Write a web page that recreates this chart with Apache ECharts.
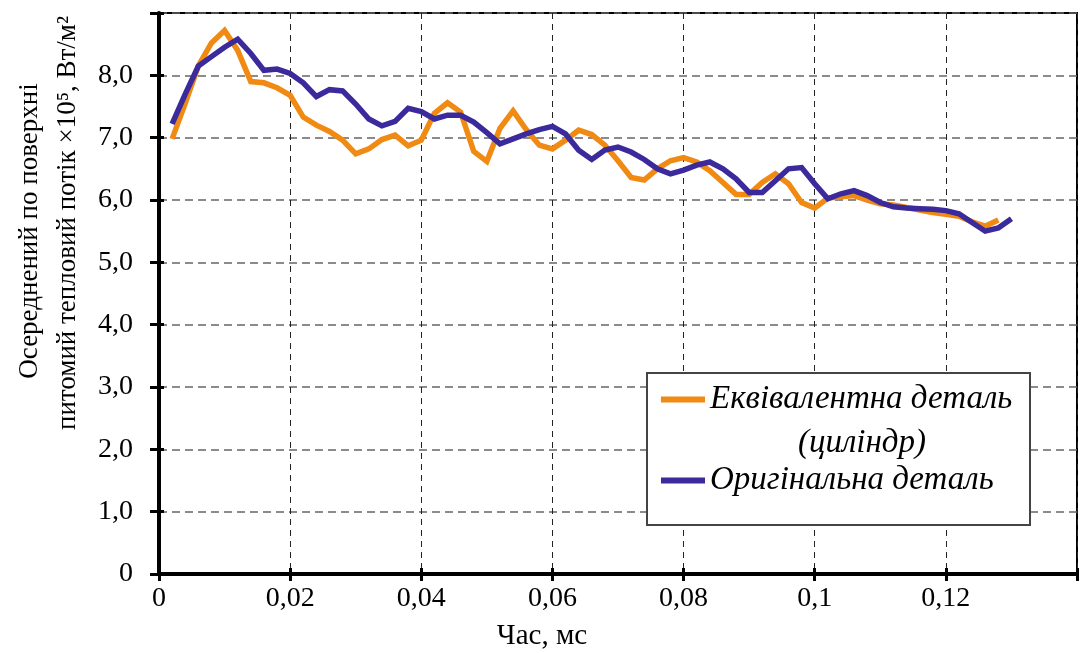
<!DOCTYPE html>
<html>
<head>
<meta charset="utf-8">
<script src="https://cdn.jsdelivr.net/npm/echarts@6/dist/echarts.min.js"></script>
<style>
html, body { margin: 0; padding: 0; background: #fff; }
#main { width: 1080px; height: 653px; }
</style>
</head>
<body>
<div id="main"></div>
<script>
// час, мс (крок 0,002)
var times = [0.002,0.004,0.006,0.008,0.010,0.012,0.014,0.016,0.018,0.020,
	0.022,0.024,0.026,0.028,0.030,0.032,0.034,0.036,0.038,0.040,
	0.042,0.044,0.046,0.048,0.050,0.052,0.054,0.056,0.058,0.060,
	0.062,0.064,0.066,0.068,0.070,0.072,0.074,0.076,0.078,0.080,
	0.082,0.084,0.086,0.088,0.090,0.092,0.094,0.096,0.098,0.100,
	0.102,0.104,0.106,0.108,0.110,0.112,0.114,0.116,0.118,0.120,
	0.122,0.124,0.126,0.128,0.130];
// еквівалентна деталь (циліндр)
var cylinderVals = [6.98,7.55,8.15,8.52,8.72,8.40,7.90,7.88,7.80,7.68,
	7.33,7.20,7.10,6.96,6.74,6.82,6.97,7.04,6.87,6.96,
	7.39,7.56,7.41,6.78,6.62,7.15,7.43,7.13,6.88,6.82,
	6.96,7.12,7.05,6.88,6.63,6.36,6.32,6.50,6.63,6.68,
	6.61,6.47,6.28,6.09,6.09,6.28,6.42,6.26,5.96,5.87,
	6.03,6.05,6.07,6.00,5.94,5.92,5.88,5.84,5.80,5.77,
	5.74,5.65,5.58,5.68];
// оригінальна деталь
var originalVals = [7.22,7.70,8.15,8.30,8.45,8.58,8.35,8.08,8.10,8.03,
	7.88,7.66,7.77,7.75,7.54,7.30,7.19,7.26,7.47,7.42,
	7.30,7.36,7.36,7.25,7.08,6.90,6.98,7.06,7.13,7.18,
	7.06,6.80,6.65,6.80,6.85,6.77,6.65,6.50,6.42,6.48,
	6.56,6.61,6.50,6.34,6.12,6.12,6.31,6.50,6.52,6.26,
	6.02,6.10,6.15,6.07,5.96,5.89,5.87,5.86,5.85,5.83,
	5.78,5.64,5.50,5.55,5.70];
var xTickLabels = ['0','0,02','0,04','0,06','0,08','0,1','0,12',''];
var yTickLabels = ['0','1,0','2,0','3,0','4,0','5,0','6,0','7,0','8,0',''];
var seriesNames = ['Еквівалентна деталь', 'Оригінальна деталь'];

var serif = "'Liberation Serif', 'Times New Roman', serif";

function pairs(vals) {
	var out = [];
	for (var i = 0; i < vals.length; i++) {
		out.push([times[i], vals[i]]);
	}
	return out;
}

var chart = echarts.init(document.getElementById('main'));

var option = {
	animation: false,
	backgroundColor: '#fff',
	grid: {
		left: 159,
		top: 13,
		width: 923,
		height: 561,
		show: true,
		borderColor: '#000',
		borderWidth: 2,
		backgroundColor: 'transparent'
	},
	xAxis: [{
		type: 'value',
		min: 0,
		max: 0.14,
		interval: 0.02,
		axisLine: {onZero: false, lineStyle: {color: '#000', width: 4}},
		axisTick: {show: true, inside: false, length: 7, lineStyle: {color: '#000', width: 3}},
		axisLabel: {
			margin: 11,
			color: '#000',
			fontFamily: serif,
			fontSize: 28,
			formatter: function (v, i) { return xTickLabels[i]; }
		},
		splitLine: {show: true, lineStyle: {color: '#222', width: 1, type: [6, 5]}}
	}, {
		type: 'value',
		min: 0,
		max: 0.14,
		interval: 0.02,
		position: 'bottom',
		axisLine: {show: false},
		axisTick: {show: true, inside: true, length: 6, lineStyle: {color: '#000', width: 3}},
		axisLabel: {show: false},
		splitLine: {show: false}
	}],
	yAxis: [{
		type: 'value',
		min: 0,
		max: 9,
		interval: 1,
		axisLine: {show: true, onZero: false, lineStyle: {color: '#000', width: 4}},
		axisTick: {show: true, inside: false, length: 9, lineStyle: {color: '#000', width: 3}},
		axisLabel: {
			margin: 26,
			color: '#000',
			fontFamily: serif,
			fontSize: 28,
			formatter: function (v, i) { return yTickLabels[i]; }
		},
		splitLine: {show: true, lineStyle: {color: '#666', width: 1.5, type: [8, 5]}}
	}, {
		type: 'value',
		min: 0,
		max: 9,
		interval: 1,
		position: 'left',
		axisLine: {show: false},
		axisTick: {show: true, inside: true, length: 5, lineStyle: {color: '#000', width: 3}},
		axisLabel: {show: false},
		splitLine: {show: false}
	}],
	legend: {
		orient: 'vertical',
		left: 656,
		top: 378,
		icon: 'rect',
		itemWidth: 44,
		itemHeight: 6,
		itemGap: 48,
		itemTextGap: 7,
		z: 10,
		data: seriesNames,
		textStyle: {
			color: '#000',
			fontFamily: serif,
			fontStyle: 'italic',
			fontSize: 33
		}
	},
	graphic: [{
		type: 'rect',
		z: 5,
		shape: {x: 647, y: 373, width: 383, height: 152},
		style: {fill: '#fff', stroke: '#444', lineWidth: 2}
	}, {
		type: 'text',
		z: 10,
		x: 862,
		y: 443,
		style: {
			text: '(циліндр)',
			font: 'italic 33px ' + serif,
			fill: '#000',
			textAlign: 'center',
			textVerticalAlign: 'middle'
		}
	}, {
		type: 'text',
		x: 30,
		y: 231,
		rotation: Math.PI / 2,
		style: {
			text: 'Осереднений по поверхні',
			font: '27px ' + serif,
			fill: '#000',
			textAlign: 'center',
			textVerticalAlign: 'middle'
		}
	}, {
		type: 'text',
		x: 68,
		y: 223,
		rotation: Math.PI / 2,
		style: {
			text: 'питомий тепловий потік ×10⁵, Вт/м²',
			font: '27px ' + serif,
			fill: '#000',
			textAlign: 'center',
			textVerticalAlign: 'middle'
		}
	}, {
		type: 'text',
		x: 542,
		y: 636,
		style: {
			text: 'Час, мс',
			font: '29px ' + serif,
			fill: '#000',
			textAlign: 'center',
			textVerticalAlign: 'middle'
		}
	}],
	series: [{
		name: seriesNames[0],
		type: 'line',
		symbol: 'none',
		data: pairs(cylinderVals),
		color: '#f08a12',
		lineStyle: {width: 5.5, color: '#f08a12', join: 'miter'}
	}, {
		name: seriesNames[1],
		type: 'line',
		symbol: 'none',
		data: pairs(originalVals),
		color: '#3b2a9c',
		lineStyle: {width: 5.5, color: '#3b2a9c', join: 'miter'}
	}]
};

chart.setOption(option);
window.addEventListener('resize', function () {
	chart.resize();
});
</script>
</body>
</html>
